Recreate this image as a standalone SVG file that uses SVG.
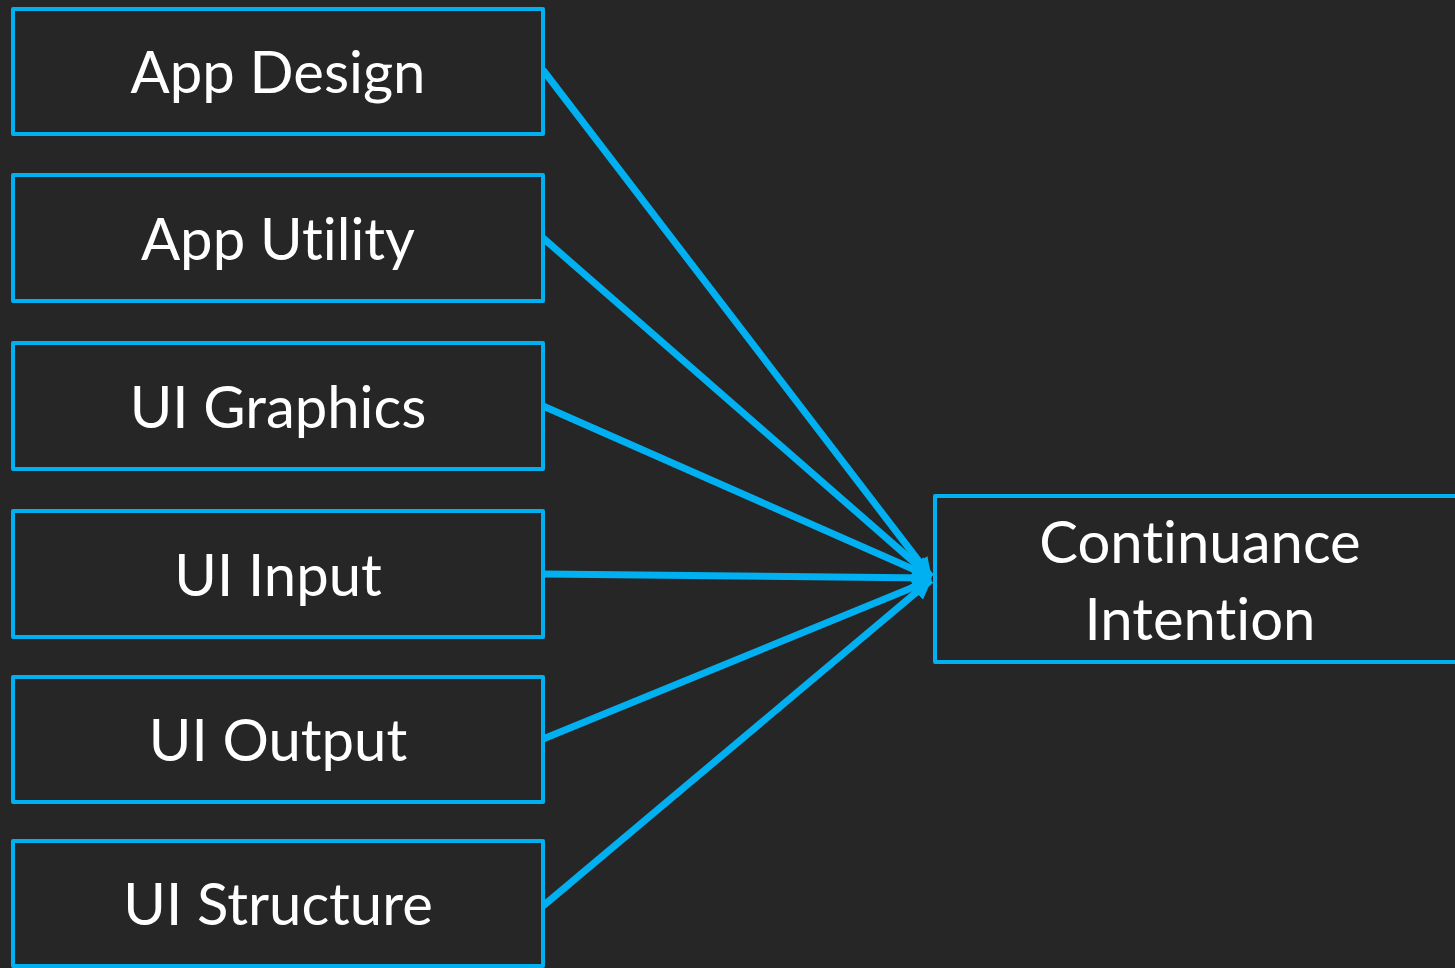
<svg xmlns="http://www.w3.org/2000/svg" width="1455" height="968" viewBox="0 0 1455 968">
<style>
.box{fill:#262626;stroke:#00B0F0;stroke-width:4;stroke-linejoin:round}
.lbl{font-family:Lato,"Open Sans","Liberation Sans",sans-serif;font-size:58px;fill:#FFFFFF;text-anchor:middle;font-variant-ligatures:none;font-feature-settings:"liga" 0}
.edge{stroke:#00B0F0;stroke-width:7;fill:none}
</style>
<defs>
<marker id="arr" markerUnits="userSpaceOnUse" viewBox="0 0 20 20" refX="19" refY="10" markerWidth="20" markerHeight="20" orient="auto">
<path d="M0,0 L20,10 L0,20 z" fill="#00B0F0"/>
</marker>
</defs>
<rect x="0" y="0" width="1455" height="968" fill="#262626"/>
<g id="connectors">
<line class="edge" x1="543" y1="70" x2="931" y2="577" marker-end="url(#arr)"/>
<line class="edge" x1="543" y1="238" x2="931" y2="577" marker-end="url(#arr)"/>
<line class="edge" x1="543" y1="406" x2="931" y2="577" marker-end="url(#arr)"/>
<line class="edge" x1="543" y1="574" x2="931" y2="578" marker-end="url(#arr)"/>
<line class="edge" x1="543" y1="739" x2="931" y2="580" marker-end="url(#arr)"/>
<line class="edge" x1="543" y1="906" x2="931" y2="580" marker-end="url(#arr)"/>
</g>
<g id="app-design"><rect class="box" x="13" y="9" width="530" height="125"/><text class="lbl" x="278" y="93">App Design</text></g>
<g id="app-utility"><rect class="box" x="13" y="175" width="530" height="126"/><text class="lbl" x="278" y="260">App Utility</text></g>
<g id="ui-graphics"><rect class="box" x="13" y="343" width="530" height="126"/><text class="lbl" x="278" y="428">UI Graphics</text></g>
<g id="ui-input"><rect class="box" x="13" y="511" width="530" height="126"/><text class="lbl" x="278" y="596">UI Input</text></g>
<g id="ui-output"><rect class="box" x="13" y="677" width="530" height="125"/><text class="lbl" x="278" y="761">UI Output</text></g>
<g id="ui-structure"><rect class="box" x="13" y="841" width="530" height="125"/><text class="lbl" x="278" y="925">UI Structure</text></g>
<g id="continuance-intention"><rect class="box" x="935" y="496" width="530" height="166"/><text class="lbl" x="1200" y="563">Continuance</text><text class="lbl" x="1200" y="640">Intention</text></g>
</svg>
